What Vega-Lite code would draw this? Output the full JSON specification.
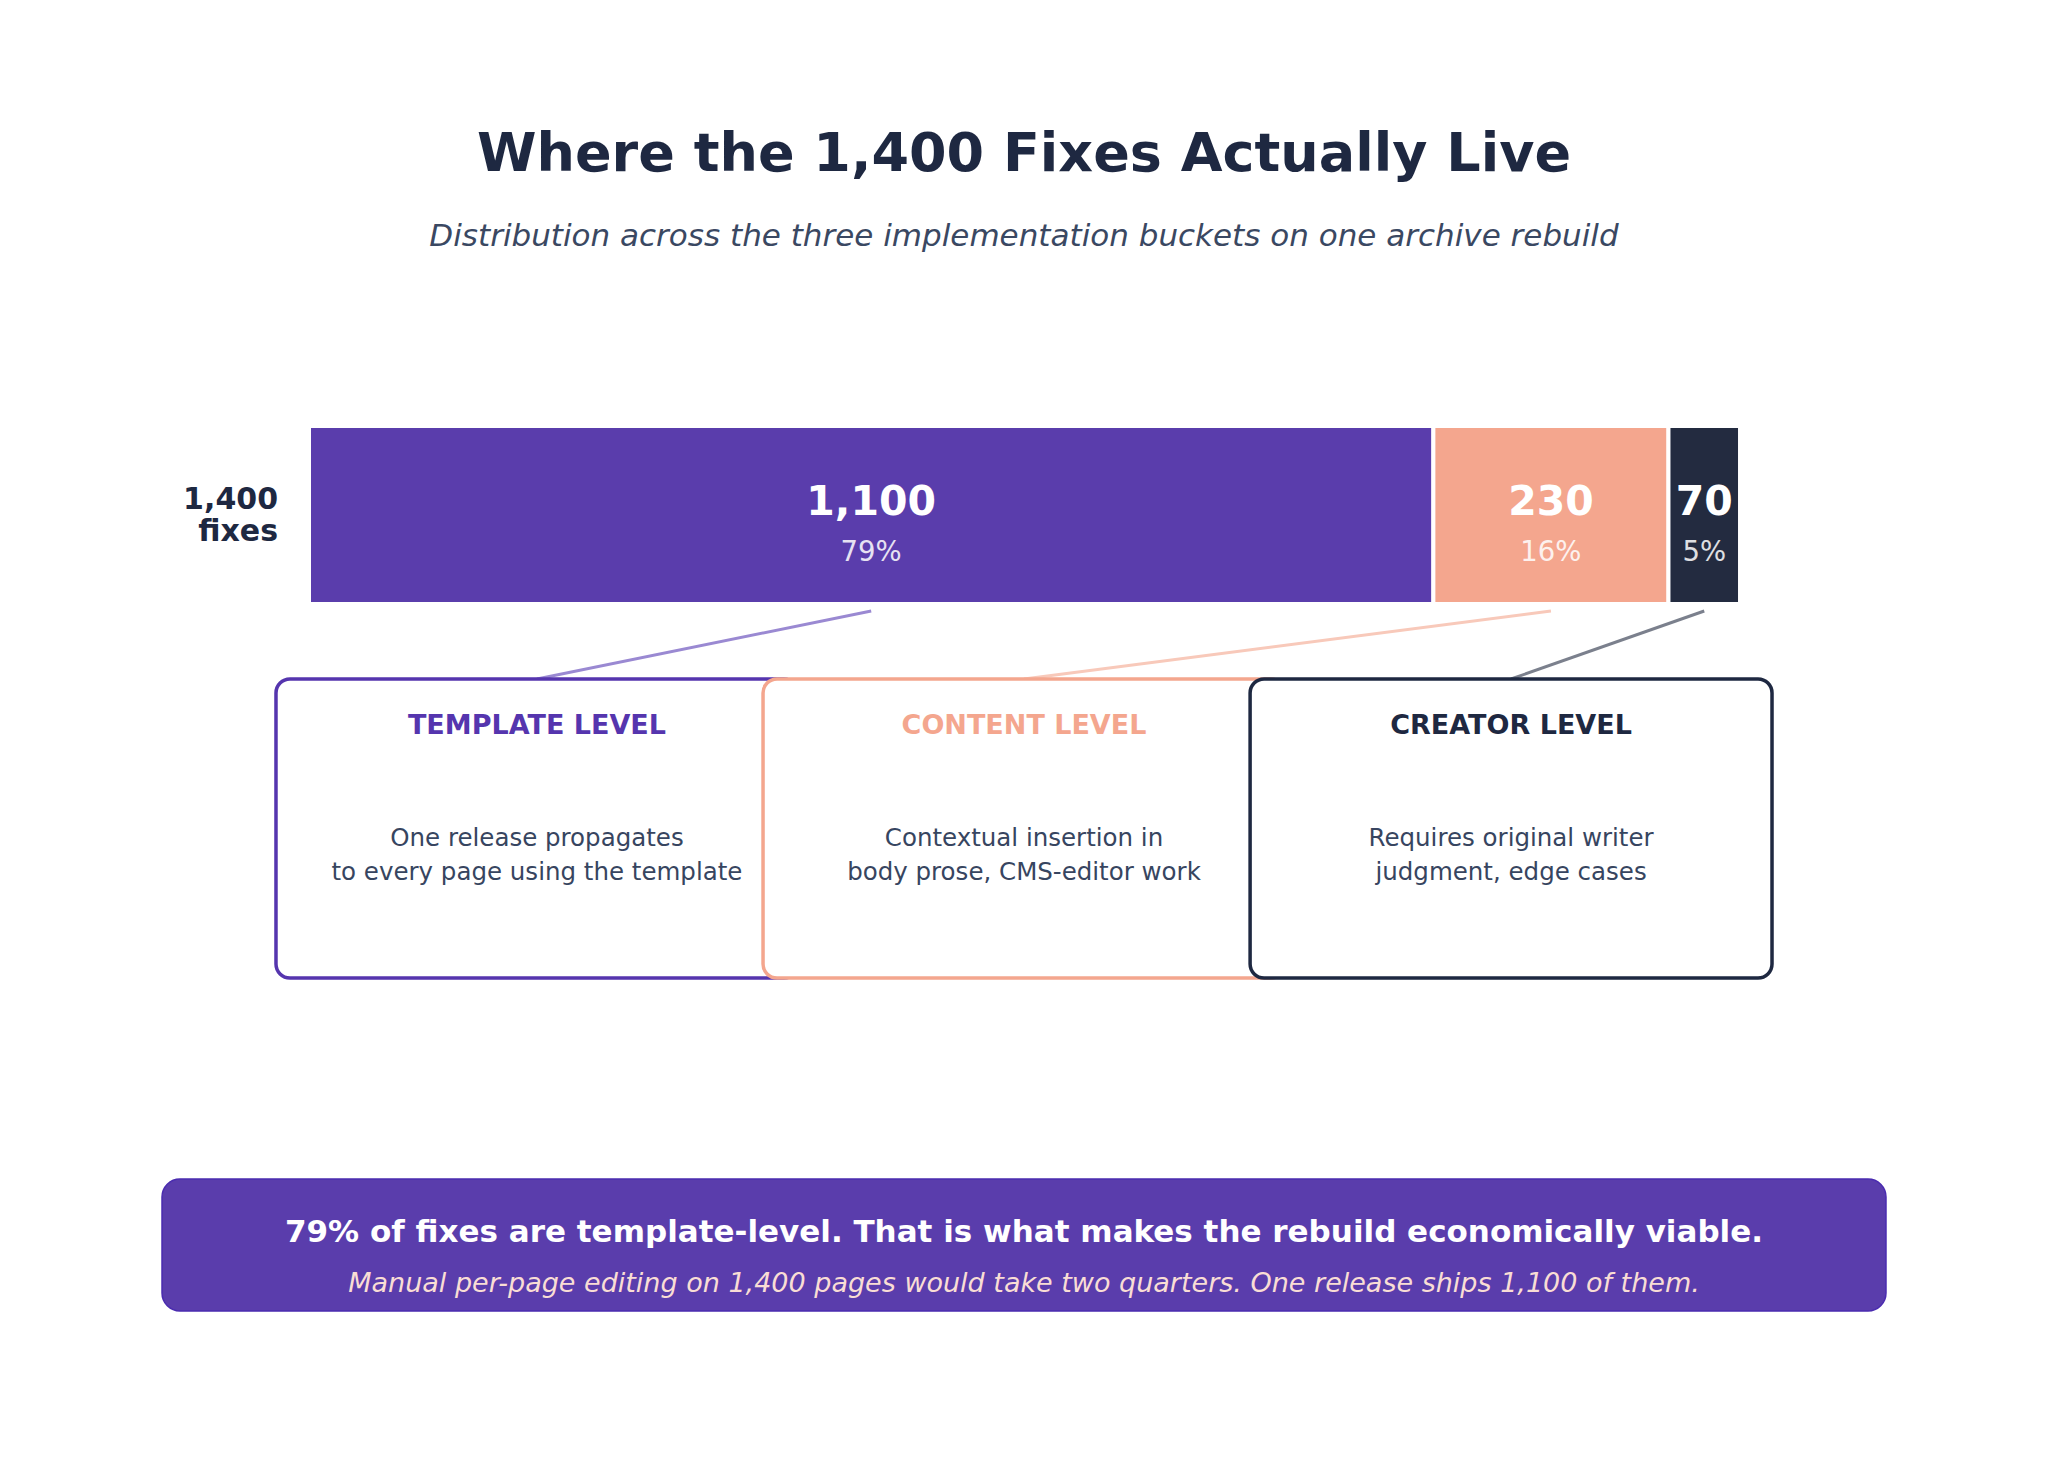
{
  "$schema": "https://vega.github.io/schema/vega-lite/v6.json",
  "width": 2048,
  "height": 1467,
  "autosize": {"type": "fit", "contains": "padding"},
  "padding": 0,
  "background": "white",
  "config": {"view": {"stroke": null}, "text": {"font": "DejaVu Sans"}},
  "datasets": {
    "buckets": [
      {"bucket": "Template level", "fixes": 1100, "share": "79%", "title": "TEMPLATE LEVEL", "desc": "One release propagates\nto every page using the template"},
      {"bucket": "Content level", "fixes": 230, "share": "16%", "title": "CONTENT LEVEL", "desc": "Contextual insertion in\nbody prose, CMS-editor work"},
      {"bucket": "Creator level", "fixes": 70, "share": "5%", "title": "CREATOR LEVEL", "desc": "Requires original writer\njudgment, edge cases"}
    ],
    "labels": [
      {"part": "title", "text": "Where the 1,400 Fixes Actually Live"},
      {"part": "subtitle", "text": "Distribution across the three implementation buckets on one archive rebuild"},
      {"part": "total", "text": "1,400"},
      {"part": "unit", "text": "fixes"},
      {"part": "takeaway", "text": "79% of fixes are template-level. That is what makes the rebuild economically viable."},
      {"part": "note", "text": "Manual per-page editing on 1,400 pages would take two quarters. One release ships 1,100 of them."}
    ]
  },
  "layer": [
    {
      "data": {"name": "labels"},
      "transform": [{"filter": {"field": "part", "equal": "title"}}],
      "mark": {"type": "text", "fontSize": 54, "fontWeight": "bold", "color": "#1E2841", "align": "center", "baseline": "middle"},
      "encoding": {
        "x": {"datum": 699.5, "type": "quantitative", "scale": {"domain": [-302.3, 1701.3], "nice": false, "zero": false}, "axis": null},
        "y": {"datum": 154.5, "type": "quantitative", "scale": {"domain": [0, 1467], "nice": false, "zero": false, "reverse": true}, "axis": null},
        "text": {"field": "text"}
      }
    },
    {
      "data": {"name": "labels"},
      "transform": [{"filter": {"field": "part", "equal": "subtitle"}}],
      "mark": {"type": "text", "fontSize": 31, "fontStyle": "italic", "color": "#3A4862", "align": "center", "baseline": "middle"},
      "encoding": {
        "x": {"datum": 699.5, "type": "quantitative", "scale": {"domain": [-302.3, 1701.3], "nice": false, "zero": false}, "axis": null},
        "y": {"datum": 236.5, "type": "quantitative", "scale": {"domain": [0, 1467], "nice": false, "zero": false, "reverse": true}, "axis": null},
        "text": {"field": "text"}
      }
    },
    {
      "data": {"name": "labels"},
      "transform": [{"filter": {"field": "part", "equal": "total"}}],
      "mark": {"type": "text", "fontSize": 30, "fontWeight": "bold", "color": "#1E2841", "align": "right", "baseline": "middle"},
      "encoding": {
        "x": {"datum": -30.3, "type": "quantitative", "scale": {"domain": [-302.3, 1701.3], "nice": false, "zero": false}, "axis": null},
        "y": {"datum": 499.5, "type": "quantitative", "scale": {"domain": [0, 1467], "nice": false, "zero": false, "reverse": true}, "axis": null},
        "text": {"field": "text"}
      }
    },
    {
      "data": {"name": "labels"},
      "transform": [{"filter": {"field": "part", "equal": "unit"}}],
      "mark": {"type": "text", "fontSize": 30, "fontWeight": "bold", "color": "#1E2841", "align": "right", "baseline": "middle"},
      "encoding": {
        "x": {"datum": -30.3, "type": "quantitative", "scale": {"domain": [-302.3, 1701.3], "nice": false, "zero": false}, "axis": null},
        "y": {"datum": 532, "type": "quantitative", "scale": {"domain": [0, 1467], "nice": false, "zero": false, "reverse": true}, "axis": null},
        "text": {"field": "text"}
      }
    },
    {
      "data": {"name": "buckets"},
      "transform": [{"stack": "fixes", "groupby": [], "sort": [{"field": "fixes", "order": "descending"}], "as": ["x0", "x1"]}],
      "mark": {"type": "rect", "stroke": "white", "strokeWidth": 4},
      "encoding": {
        "x": {"field": "x0", "type": "quantitative", "scale": {"domain": [-302.3, 1701.3], "nice": false, "zero": false}, "axis": null},
        "x2": {"field": "x1"},
        "y": {"datum": 426, "type": "quantitative", "scale": {"domain": [0, 1467], "nice": false, "zero": false, "reverse": true}, "axis": null},
        "y2": {"datum": 604},
        "color": {"field": "bucket", "type": "nominal", "scale": {"domain": ["Template level", "Content level", "Creator level"], "range": ["#5A3DAC", "#F4A68E", "#232B40"]}, "legend": null}
      }
    },
    {
      "data": {"name": "buckets"},
      "transform": [
        {"stack": "fixes", "groupby": [], "sort": [{"field": "fixes", "order": "descending"}], "as": ["x0", "x1"]},
        {"fold": ["x0", "x1"], "as": ["edge", "pos"]},
        {"aggregate": [{"op": "mean", "field": "pos", "as": "mid"}], "groupby": ["bucket", "fixes", "share"]}
      ],
      "mark": {"type": "text", "fontSize": 41, "fontWeight": "bold", "color": "white", "align": "center", "baseline": "middle"},
      "encoding": {
        "x": {"field": "mid", "type": "quantitative", "scale": {"domain": [-302.3, 1701.3], "nice": false, "zero": false}, "axis": null},
        "y": {"datum": 502.5, "type": "quantitative", "scale": {"domain": [0, 1467], "nice": false, "zero": false, "reverse": true}, "axis": null},
        "text": {"field": "fixes", "type": "quantitative", "format": ",d"}
      }
    },
    {
      "data": {"name": "buckets"},
      "transform": [
        {"stack": "fixes", "groupby": [], "sort": [{"field": "fixes", "order": "descending"}], "as": ["x0", "x1"]},
        {"fold": ["x0", "x1"], "as": ["edge", "pos"]},
        {"aggregate": [{"op": "mean", "field": "pos", "as": "mid"}], "groupby": ["bucket", "fixes", "share"]}
      ],
      "mark": {"type": "text", "fontSize": 27.5, "color": "white", "opacity": 0.85, "align": "center", "baseline": "middle"},
      "encoding": {
        "x": {"field": "mid", "type": "quantitative", "scale": {"domain": [-302.3, 1701.3], "nice": false, "zero": false}, "axis": null},
        "y": {"datum": 552.5, "type": "quantitative", "scale": {"domain": [0, 1467], "nice": false, "zero": false, "reverse": true}, "axis": null},
        "text": {"field": "share"}
      }
    },
    {
      "data": {"name": "buckets"},
      "transform": [
        {"stack": "fixes", "groupby": [], "sort": [{"field": "fixes", "order": "descending"}], "as": ["x0", "x1"]},
        {"filter": {"field": "bucket", "equal": "Template level"}},
        {"fold": ["x0", "x1"], "as": ["edge", "pos"]},
        {"aggregate": [{"op": "mean", "field": "pos", "as": "mid"}], "groupby": ["bucket"]}
      ],
      "mark": {"type": "rule", "color": "#9A89D2", "strokeWidth": 3},
      "encoding": {
        "x": {"field": "mid", "type": "quantitative", "scale": {"domain": [-302.3, 1701.3], "nice": false, "zero": false}, "axis": null},
        "x2": {"datum": 223},
        "y": {"datum": 611, "type": "quantitative", "scale": {"domain": [0, 1467], "nice": false, "zero": false, "reverse": true}, "axis": null},
        "y2": {"datum": 679}
      }
    },
    {
      "data": {"name": "buckets"},
      "transform": [
        {"stack": "fixes", "groupby": [], "sort": [{"field": "fixes", "order": "descending"}], "as": ["x0", "x1"]},
        {"filter": {"field": "bucket", "equal": "Content level"}},
        {"fold": ["x0", "x1"], "as": ["edge", "pos"]},
        {"aggregate": [{"op": "mean", "field": "pos", "as": "mid"}], "groupby": ["bucket"]}
      ],
      "mark": {"type": "rule", "color": "#F8C9BA", "strokeWidth": 3},
      "encoding": {
        "x": {"field": "mid", "type": "quantitative", "scale": {"domain": [-302.3, 1701.3], "nice": false, "zero": false}, "axis": null},
        "x2": {"datum": 699.5},
        "y": {"datum": 611, "type": "quantitative", "scale": {"domain": [0, 1467], "nice": false, "zero": false, "reverse": true}, "axis": null},
        "y2": {"datum": 679}
      }
    },
    {
      "data": {"name": "buckets"},
      "transform": [
        {"stack": "fixes", "groupby": [], "sort": [{"field": "fixes", "order": "descending"}], "as": ["x0", "x1"]},
        {"filter": {"field": "bucket", "equal": "Creator level"}},
        {"fold": ["x0", "x1"], "as": ["edge", "pos"]},
        {"aggregate": [{"op": "mean", "field": "pos", "as": "mid"}], "groupby": ["bucket"]}
      ],
      "mark": {"type": "rule", "color": "#7B808D", "strokeWidth": 3},
      "encoding": {
        "x": {"field": "mid", "type": "quantitative", "scale": {"domain": [-302.3, 1701.3], "nice": false, "zero": false}, "axis": null},
        "x2": {"datum": 1176},
        "y": {"datum": 611, "type": "quantitative", "scale": {"domain": [0, 1467], "nice": false, "zero": false, "reverse": true}, "axis": null},
        "y2": {"datum": 679}
      }
    },
    {
      "data": {"name": "buckets"},
      "transform": [{"filter": {"field": "bucket", "equal": "Template level"}}],
      "mark": {"type": "rect", "fill": "white", "stroke": "#5535AE", "strokeWidth": 3.5, "cornerRadius": 14},
      "encoding": {
        "x": {"datum": -32.3, "type": "quantitative", "scale": {"domain": [-302.3, 1701.3], "nice": false, "zero": false}, "axis": null},
        "x2": {"datum": 478.3},
        "y": {"datum": 679, "type": "quantitative", "scale": {"domain": [0, 1467], "nice": false, "zero": false, "reverse": true}, "axis": null},
        "y2": {"datum": 978}
      }
    },
    {
      "data": {"name": "buckets"},
      "transform": [{"filter": {"field": "bucket", "equal": "Template level"}}],
      "mark": {"type": "text", "fontSize": 27, "fontWeight": "bold", "color": "#5535AE", "align": "center", "baseline": "middle"},
      "encoding": {
        "x": {"datum": 223, "type": "quantitative", "scale": {"domain": [-302.3, 1701.3], "nice": false, "zero": false}, "axis": null},
        "y": {"datum": 726, "type": "quantitative", "scale": {"domain": [0, 1467], "nice": false, "zero": false, "reverse": true}, "axis": null},
        "text": {"field": "title"}
      }
    },
    {
      "data": {"name": "buckets"},
      "transform": [{"filter": {"field": "bucket", "equal": "Template level"}}],
      "mark": {"type": "text", "fontSize": 24.5, "color": "#374560", "align": "center", "baseline": "middle", "lineBreak": "\n", "lineHeight": 34},
      "encoding": {
        "x": {"datum": 223, "type": "quantitative", "scale": {"domain": [-302.3, 1701.3], "nice": false, "zero": false}, "axis": null},
        "y": {"datum": 838.5, "type": "quantitative", "scale": {"domain": [0, 1467], "nice": false, "zero": false, "reverse": true}, "axis": null},
        "text": {"field": "desc"}
      }
    },
    {
      "data": {"name": "buckets"},
      "transform": [{"filter": {"field": "bucket", "equal": "Content level"}}],
      "mark": {"type": "rect", "fill": "white", "stroke": "#F4A68E", "strokeWidth": 3.5, "cornerRadius": 14},
      "encoding": {
        "x": {"datum": 444.2, "type": "quantitative", "scale": {"domain": [-302.3, 1701.3], "nice": false, "zero": false}, "axis": null},
        "x2": {"datum": 954.8},
        "y": {"datum": 679, "type": "quantitative", "scale": {"domain": [0, 1467], "nice": false, "zero": false, "reverse": true}, "axis": null},
        "y2": {"datum": 978}
      }
    },
    {
      "data": {"name": "buckets"},
      "transform": [{"filter": {"field": "bucket", "equal": "Content level"}}],
      "mark": {"type": "text", "fontSize": 27, "fontWeight": "bold", "color": "#F4A68E", "align": "center", "baseline": "middle"},
      "encoding": {
        "x": {"datum": 699.5, "type": "quantitative", "scale": {"domain": [-302.3, 1701.3], "nice": false, "zero": false}, "axis": null},
        "y": {"datum": 726, "type": "quantitative", "scale": {"domain": [0, 1467], "nice": false, "zero": false, "reverse": true}, "axis": null},
        "text": {"field": "title"}
      }
    },
    {
      "data": {"name": "buckets"},
      "transform": [{"filter": {"field": "bucket", "equal": "Content level"}}],
      "mark": {"type": "text", "fontSize": 24.5, "color": "#374560", "align": "center", "baseline": "middle", "lineBreak": "\n", "lineHeight": 34},
      "encoding": {
        "x": {"datum": 699.5, "type": "quantitative", "scale": {"domain": [-302.3, 1701.3], "nice": false, "zero": false}, "axis": null},
        "y": {"datum": 838.5, "type": "quantitative", "scale": {"domain": [0, 1467], "nice": false, "zero": false, "reverse": true}, "axis": null},
        "text": {"field": "desc"}
      }
    },
    {
      "data": {"name": "buckets"},
      "transform": [{"filter": {"field": "bucket", "equal": "Creator level"}}],
      "mark": {"type": "rect", "fill": "white", "stroke": "#1E2841", "strokeWidth": 3.5, "cornerRadius": 14},
      "encoding": {
        "x": {"datum": 920.7, "type": "quantitative", "scale": {"domain": [-302.3, 1701.3], "nice": false, "zero": false}, "axis": null},
        "x2": {"datum": 1431.3},
        "y": {"datum": 679, "type": "quantitative", "scale": {"domain": [0, 1467], "nice": false, "zero": false, "reverse": true}, "axis": null},
        "y2": {"datum": 978}
      }
    },
    {
      "data": {"name": "buckets"},
      "transform": [{"filter": {"field": "bucket", "equal": "Creator level"}}],
      "mark": {"type": "text", "fontSize": 27, "fontWeight": "bold", "color": "#1E2841", "align": "center", "baseline": "middle"},
      "encoding": {
        "x": {"datum": 1176, "type": "quantitative", "scale": {"domain": [-302.3, 1701.3], "nice": false, "zero": false}, "axis": null},
        "y": {"datum": 726, "type": "quantitative", "scale": {"domain": [0, 1467], "nice": false, "zero": false, "reverse": true}, "axis": null},
        "text": {"field": "title"}
      }
    },
    {
      "data": {"name": "buckets"},
      "transform": [{"filter": {"field": "bucket", "equal": "Creator level"}}],
      "mark": {"type": "text", "fontSize": 24.5, "color": "#374560", "align": "center", "baseline": "middle", "lineBreak": "\n", "lineHeight": 34},
      "encoding": {
        "x": {"datum": 1176, "type": "quantitative", "scale": {"domain": [-302.3, 1701.3], "nice": false, "zero": false}, "axis": null},
        "y": {"datum": 838.5, "type": "quantitative", "scale": {"domain": [0, 1467], "nice": false, "zero": false, "reverse": true}, "axis": null},
        "text": {"field": "desc"}
      }
    },
    {
      "data": {"name": "labels"},
      "transform": [{"filter": {"field": "part", "equal": "takeaway"}}],
      "mark": {"type": "rect", "fill": "#5A3DAC", "stroke": "#4A2BB0", "strokeWidth": 1.5, "cornerRadius": 18},
      "encoding": {
        "x": {"datum": -143.8, "type": "quantitative", "scale": {"domain": [-302.3, 1701.3], "nice": false, "zero": false}, "axis": null},
        "x2": {"datum": 1542.8},
        "y": {"datum": 1179, "type": "quantitative", "scale": {"domain": [0, 1467], "nice": false, "zero": false, "reverse": true}, "axis": null},
        "y2": {"datum": 1311}
      }
    },
    {
      "data": {"name": "labels"},
      "transform": [{"filter": {"field": "part", "equal": "takeaway"}}],
      "mark": {"type": "text", "fontSize": 31, "fontWeight": "bold", "color": "white", "align": "center", "baseline": "middle"},
      "encoding": {
        "x": {"datum": 699.5, "type": "quantitative", "scale": {"domain": [-302.3, 1701.3], "nice": false, "zero": false}, "axis": null},
        "y": {"datum": 1233, "type": "quantitative", "scale": {"domain": [0, 1467], "nice": false, "zero": false, "reverse": true}, "axis": null},
        "text": {"field": "text"}
      }
    },
    {
      "data": {"name": "labels"},
      "transform": [{"filter": {"field": "part", "equal": "note"}}],
      "mark": {"type": "text", "fontSize": 27, "fontStyle": "italic", "color": "#F9DDD5", "align": "center", "baseline": "middle"},
      "encoding": {
        "x": {"datum": 699.5, "type": "quantitative", "scale": {"domain": [-302.3, 1701.3], "nice": false, "zero": false}, "axis": null},
        "y": {"datum": 1284, "type": "quantitative", "scale": {"domain": [0, 1467], "nice": false, "zero": false, "reverse": true}, "axis": null},
        "text": {"field": "text"}
      }
    }
  ]
}
